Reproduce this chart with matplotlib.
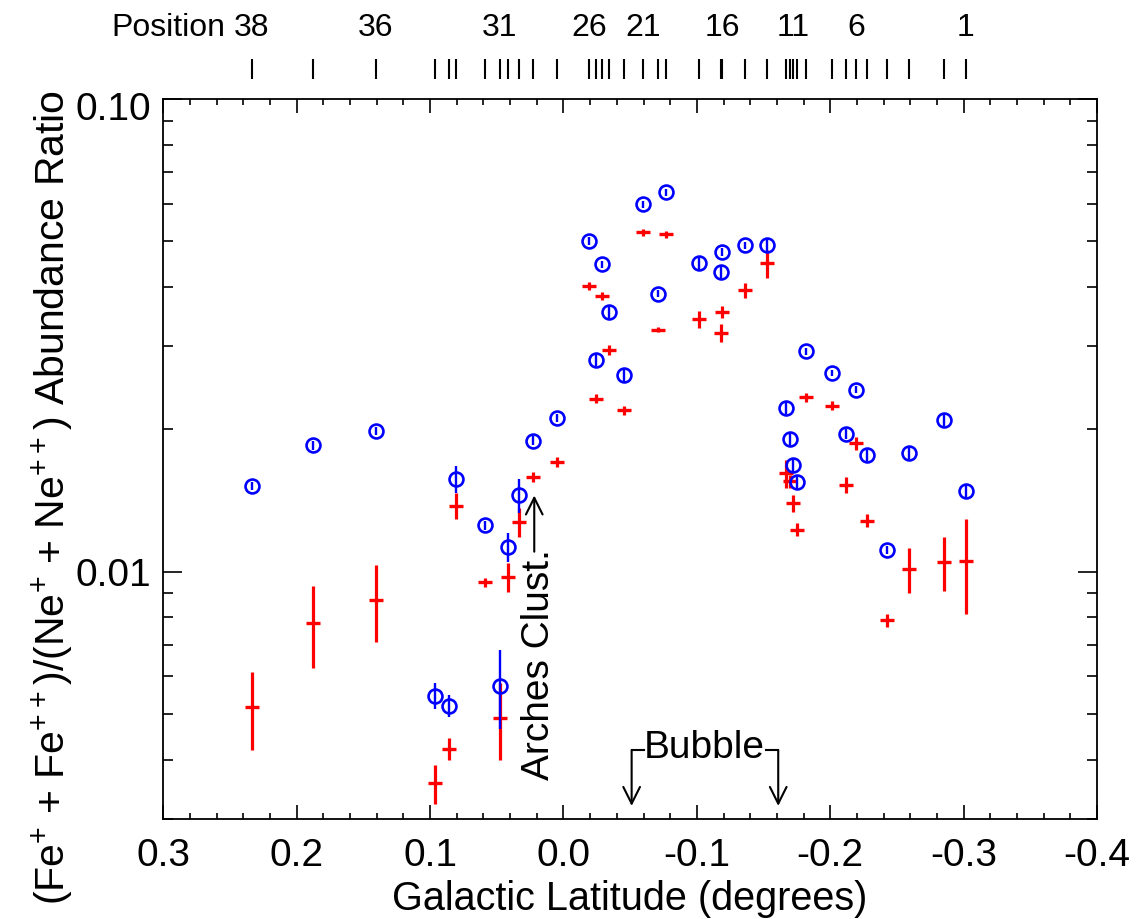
import matplotlib
matplotlib.use("Agg")
import matplotlib.pyplot as plt
from matplotlib.ticker import MultipleLocator, LogLocator, FuncFormatter, NullFormatter
from matplotlib.transforms import ScaledTranslation


# position number -> galactic latitude (deg), positions 1..38
POSITIONS = list(range(1, 39))
POS_LAT = [
    -0.3015, -0.2852, -0.2590, -0.2423, -0.2273, -0.2193, -0.2118, -0.2011,
    -0.1818, -0.1748, -0.1723, -0.1696, -0.1668, -0.1523, -0.1361, -0.1190,
    -0.1178, -0.1018, -0.0768, -0.0711, -0.0594, -0.0456, -0.0343, -0.0286,
    -0.0244, -0.0193, 0.0051, 0.0226, 0.0331, 0.0414, 0.0476, 0.0588,
    0.0806, 0.0856, 0.0963, 0.1406, 0.1876, 0.2337,
]
LABELED_POS = [38, 36, 31, 26, 21, 16, 11, 6, 1]

# blue circles
BLUE = [
    0.01484, 0.02096, 0.01781, 0.01112, 0.01761, 0.02427, 0.01957, 0.02636,
    0.02925, 0.01546, 0.01677, 0.01910, 0.02222, 0.04906, 0.04898, 0.04748,
    0.04307, 0.04487, 0.06343, 0.03876, 0.05983, 0.02602, 0.03542, 0.04472,
    0.02809, 0.05010, 0.02116, 0.01894, 0.01449, 0.01126, 0.005736, 0.01252,
    0.01569, 0.005201, 0.005462, 0.01982, 0.01849, 0.01519,
]
BLUE_ERR = [
    0.0005, 0.0006, 0.0005, 0.0002, 0.0005, 0.0004, 0.0005, 0.0004,
    0.0005, 0.0005, 0.0005, 0.0006, 0.0007, 0.0015, 0.0009, 0.0009,
    0.0013, 0.0014, 0.0010, 0.0007, 0.0010, 0.0008, 0.0010, 0.0008,
    0.0009, 0.0010, 0.0004, 0.0004, 0.0012, 0.0008, 0.0011, 0.0003,
    0.0010, 0.00027, 0.00034, 0.0004, 0.0004, 0.0003,
]

# red crosses
RED = [
    0.01055, 0.01046, 0.01013, 0.00790, 0.01282, 0.01870, 0.01528, 0.02244,
    0.02340, 0.01227, 0.01395, 0.01553, 0.01615, 0.04487, 0.03939, 0.03542,
    0.03203, 0.03419, 0.05170, 0.03251, 0.05221, 0.02193, 0.02949, 0.03831,
    0.02322, 0.04022, 0.01704, 0.01584, 0.01272, 0.009725, 0.004898, 0.009490,
    0.01379, 0.004222, 0.003566, 0.008710, 0.007785, 0.005159,
]
RED_ERR = [
    0.0024, 0.00137, 0.00111, 0.00025, 0.0004, 0.0006, 0.0006, 0.0005,
    0.0005, 0.0004, 0.0006, 0.0005, 0.0011, 0.0030, 0.0015, 0.0010,
    0.00136, 0.00145, 0.0008, 0.0004, 0.0008, 0.0005, 0.0007, 0.0007,
    0.0005, 0.0007, 0.0004, 0.0004, 0.0009, 0.00069, 0.0009, 0.0002,
    0.0009, 0.00023, 0.00034, 0.00161, 0.00152, 0.00097,
]

FONT = "Liberation Sans"


def lat_fmt(v, _pos):
    v = round(v, 2)
    if v == 0:
        return "0.0"
    return f"{v:.1f}"


def main():
    plt.rcParams["font.family"] = [FONT, "DejaVu Sans"]
    plt.rcParams["mathtext.fontset"] = "custom"
    plt.rcParams["mathtext.rm"] = FONT
    plt.rcParams["mathtext.default"] = "regular"
    plt.rcParams["axes.unicode_minus"] = False

    fig = plt.figure(figsize=(11.38, 9.19), dpi=100)
    ax = fig.add_axes([0.1435, 0.1091, 0.8205, 0.7832])

    # =====================
    # Data
    # =====================
    ax.errorbar(POS_LAT, RED, yerr=RED_ERR, fmt="_", color="red",
                ms=10, mew=2.4, elinewidth=2.3, capsize=0, zorder=3)
    ax.errorbar(POS_LAT, BLUE, yerr=BLUE_ERR, fmt="o", color="blue",
                mfc="none", mec="blue", ms=10, mew=1.9, elinewidth=1.7,
                capsize=0, zorder=4)

    # =====================
    # Axes
    # =====================
    ax.set_yscale("log")
    ax.set_xlim(0.3, -0.4)
    ax.set_ylim(0.003, 0.1)

    ax.xaxis.set_major_locator(MultipleLocator(0.1))
    ax.xaxis.set_minor_locator(MultipleLocator(0.02))
    ax.xaxis.set_major_formatter(FuncFormatter(lat_fmt))

    ax.set_yticks([0.01, 0.1])
    ax.set_yticklabels(["0.01", "0.10"])
    ax.yaxis.set_minor_locator(LogLocator(base=10, subs=range(2, 10)))
    ax.yaxis.set_minor_formatter(NullFormatter())

    for s in ax.spines.values():
        s.set_linewidth(1.3)
    ax.tick_params(axis="both", which="both", direction="in",
                   top=True, right=True, width=1.2, labelsize=28)
    ax.tick_params(axis="x", which="major", length=10, pad=14)
    ax.tick_params(axis="x", which="minor", length=4.5)
    ax.tick_params(axis="y", which="major", length=14, pad=9)
    ax.tick_params(axis="y", which="minor", length=7)

    # the top label sits a little below the axis edge in the original
    top_lab = ax.get_yticklabels()[1]
    top_lab.set_transform(top_lab.get_transform()
                          + ScaledTranslation(0, -0.07, fig.dpi_scale_trans))

    ax.set_xlabel("Galactic Latitude (degrees)", fontsize=28.5, labelpad=4)
    ax.set_ylabel(r"(Fe$^{+}$ + Fe$^{++}$)/(Ne$^{+}$ + Ne$^{++}$) Abundance Ratio",
                  fontsize=29.5)
    ax.yaxis.set_label_coords(-0.093, 0.447)

    # =====================
    # Position markers along the top
    # =====================
    ax.vlines(POS_LAT, 1.0274, 1.0551, color="black", lw=1.5,
              transform=ax.get_xaxis_transform(), clip_on=False)
    for p in LABELED_POS:
        lat = POS_LAT[POSITIONS.index(p)]
        ax.text(lat, 1.0987, str(p), ha="center", va="center", fontsize=23,
                transform=ax.get_xaxis_transform())
    lat38 = POS_LAT[POSITIONS.index(38)]
    ax.annotate("Position", xy=(lat38, 1.0987), xycoords=ax.get_xaxis_transform(),
                xytext=(-19, 0), textcoords="offset points",
                ha="right", va="center", fontsize=23)

    # =====================
    # Annotations
    # =====================
    ax.text(0.0185, 0.00635, "Arches Clust.", rotation=90, ha="center",
            va="center", fontsize=28)
    ax.annotate("", xy=(0.0219, 0.01449), xytext=(0.0219, 0.01102),
                arrowprops=dict(arrowstyle="->", color="black", lw=1.5,
                                mutation_scale=30, shrinkA=0, shrinkB=0))

    ax.text(-0.1053, 0.004244, "Bubble", ha="center", va="center", fontsize=28)
    ax.plot([-0.0604, -0.0511], [0.004191, 0.004191], color="black", lw=1.5)
    ax.plot([-0.1518, -0.161], [0.004191, 0.004191], color="black", lw=1.5)
    for x in (-0.0511, -0.161):
        ax.annotate("", xy=(x, 0.003193), xytext=(x, 0.004191),
                    arrowprops=dict(arrowstyle="->", color="black", lw=1.5,
                                    mutation_scale=30, shrinkA=0, shrinkB=0))

    fig.savefig("out.png", dpi=100)


if __name__ == "__main__":
    main()
